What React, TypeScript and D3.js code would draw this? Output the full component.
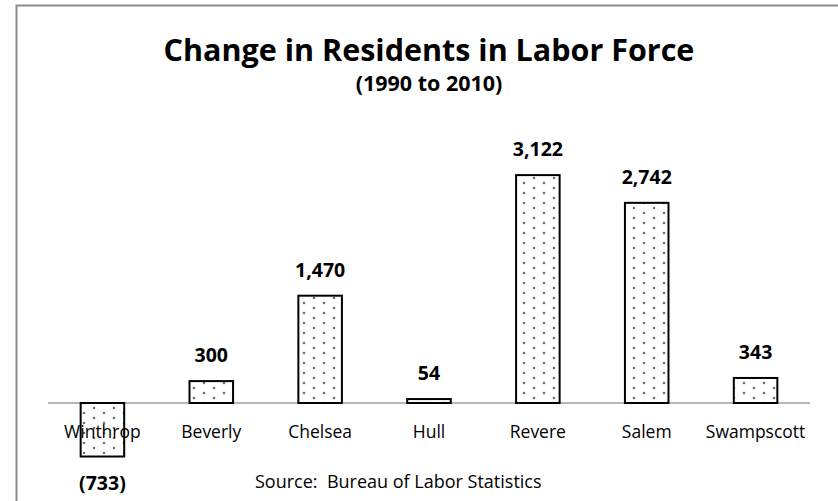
import React from 'react'
import * as d3 from 'd3'

const towns = ['Winthrop', 'Beverly', 'Chelsea', 'Hull', 'Revere', 'Salem', 'Swampscott']
const changes = [-733, 300, 1470, 54, 3122, 2742, 343]

const W = 838
const H = 501
const FONT = '"Open Sans", Lato, sans-serif'

const fmt = (v: number) => (v < 0 ? `(${d3.format(',')(-v)})` : d3.format(',')(v))

export default function App() {
  const rows = towns.map((name, i) => ({ name, value: changes[i] }))

  const x = d3.scaleBand<string>()
    .domain(towns)
    .range([48, 810])
    .paddingInner(0.6)
    .paddingOuter(0.3)

  // 0 sits at y=403, 3,122 reaches y=175
  const y = d3.scaleLinear().domain([-1000, 3500]).range([476, 147.5])

  return (
    <svg width={W} height={H} style={{ position: 'absolute', left: 0, top: 0, background: '#fff' }}>
      <defs>
        <pattern id="dots" width={20} height={10} patternUnits="userSpaceOnUse">
          <rect width={20} height={10} fill="#fff" />
          <circle cx={4} cy={3} r={1.3} fill="#707070" />
          <circle cx={14} cy={8} r={1.3} fill="#707070" />
        </pattern>
      </defs>

      {/* chart frame */}
      <rect x={16.5} y={5.5} width={W + 20} height={H + 20} fill="none" stroke="#8c8c8c" strokeWidth={2} />

      <text x={429} y={60.5} textAnchor="middle" fontFamily={FONT} fontWeight="bold" fontSize={30.5}>
        Change in Residents in Labor Force
      </text>
      <text x={429} y={91} textAnchor="middle" fontFamily={FONT} fontWeight="bold" fontSize={21.5}>
        (1990 to 2010)
      </text>

      {/* axis line */}
      <line x1={48} x2={810} y1={y(0)} y2={y(0)} stroke="#a0a0a0" strokeWidth={1.5} />

      {rows.map(d => {
        const top = y(Math.max(0, d.value))
        const bottom = y(Math.min(0, d.value))
        return (
          <rect
            key={d.name}
            x={x(d.name)}
            y={top}
            width={x.bandwidth()}
            height={bottom - top}
            fill="url(#dots)"
            stroke="#000"
            strokeWidth={2}
          />
        )
      })}

      {/* category labels */}
      {rows.map(d => (
        <text
          key={'c' + d.name}
          x={(x(d.name) ?? 0) + x.bandwidth() / 2}
          y={438}
          textAnchor="middle"
          fontFamily={FONT}
          fontSize={17.5}
        >
          {d.name}
        </text>
      ))}

      {/* value labels */}
      {rows.map(d => (
        <text
          key={'v' + d.name}
          x={(x(d.name) ?? 0) + x.bandwidth() / 2}
          y={d.value < 0 ? y(d.value) + 33 : y(d.value) - 19}
          textAnchor="middle"
          fontFamily={FONT}
          fontWeight="bold"
          fontSize={19.5}
        >
          {fmt(d.value)}
        </text>
      ))}

      <text x={255} y={488} fontFamily={FONT} fontSize={18} style={{ whiteSpace: 'pre' }}>
        Source:  Bureau of Labor Statistics
      </text>
    </svg>
  )
}
